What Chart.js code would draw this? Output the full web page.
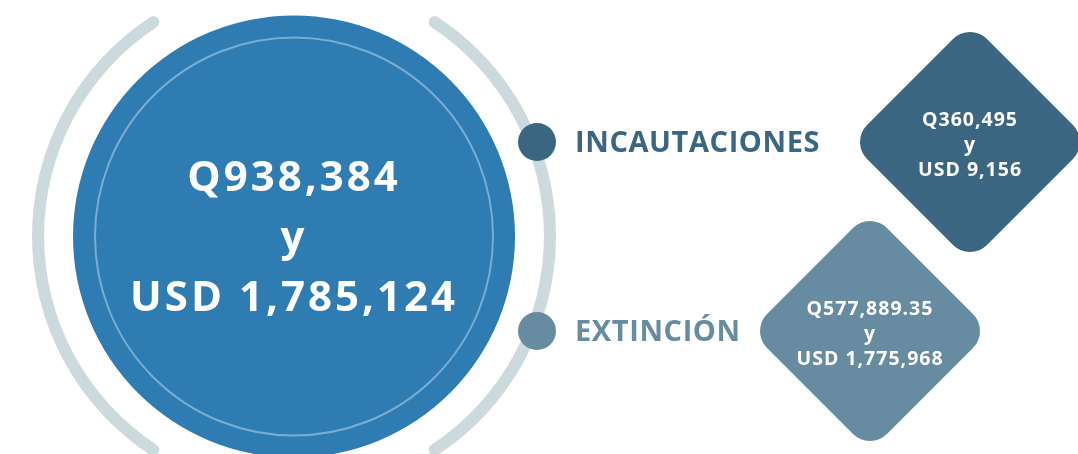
<!DOCTYPE html>
<html lang="es">
<head>
<meta charset="utf-8">
<title>Incautaciones y extinción</title>
<script src="https://cdn.jsdelivr.net/npm/chart.js@4.4.1/dist/chart.umd.min.js"></script>
<style>
  html, body { margin: 0; padding: 0; background: #fff; overflow: hidden; }
  #wrap { position: relative; width: 1078px; height: 454px; overflow: hidden; }
  #ring { position: absolute; left: 32px; top: -26px; }
  #chart { position: absolute; left: 0; top: 0; }
</style>
</head>
<body>
<div id="wrap">
  <canvas id="ring" width="524" height="524"></canvas>
  <canvas id="chart" width="1078" height="454"></canvas>
</div>
<script>
// datos
const categories = ['INCAUTACIONES', 'EXTINCIÓN'];
const quetzales = [360495, 577889.35];
const dolares = [9156, 1775968];
const totalQuetzales = 938384;
const totalDolares = 1785124;

const catColors = ['#3b6681', '#678ba0'];
const mainBlue = '#2e7cb1';
const arcGray = '#ccd9dd';

// columnas del infográfico (x en px, y en índice de categoría)
const circleX = 294;
const markerX = 537;
const diamondX = [970, 870];

function fmt(v) {
  return v.toLocaleString('en-US', { maximumFractionDigits: 2 });
}

// arcos grises alrededor del círculo principal
new Chart(document.getElementById('ring'), {
  type: 'doughnut',
  data: {
    datasets: [{
      data: [116, 64, 116, 64],
      backgroundColor: [arcGray, 'rgba(0,0,0,0)', arcGray, 'rgba(0,0,0,0)'],
      borderWidth: 0,
      borderRadius: 6
    }]
  },
  options: {
    responsive: false,
    animation: false,
    events: [],
    rotation: 32,
    cutout: '95.4%',
    plugins: { legend: { display: false }, tooltip: { enabled: false } }
  }
});

// esquinas redondeadas para los rombos
const roundJoin = {
  id: 'roundJoin',
  beforeDatasetDraw(chart, args) {
    if (args.index === 3) chart.ctx.lineJoin = 'round';
  },
  afterDatasetDraw(chart, args) {
    if (args.index === 3) chart.ctx.lineJoin = 'miter';
  }
};

// textos sobre las figuras
const infoText = {
  id: 'infoText',
  afterDatasetsDraw(chart) {
    const ctx = chart.ctx;
    ctx.save();
    ctx.textAlign = 'center';
    ctx.textBaseline = 'alphabetic';
    ctx.fillStyle = '#ffffff';

    const big = chart.getDatasetMeta(0).data[0];
    ctx.font = 'bold 42px "Open Sans", sans-serif';
    ctx.letterSpacing = '3px';
    ctx.fillText('Q' + fmt(totalQuetzales), big.x, big.y - 46);
    ctx.fillText('y', big.x, big.y + 14);
    ctx.fillText('USD ' + fmt(totalDolares), big.x, big.y + 74);

    const markers = chart.getDatasetMeta(2).data;
    ctx.textAlign = 'left';
    ctx.font = 'bold 29px "Open Sans", sans-serif';
    ctx.letterSpacing = '0.6px';
    markers.forEach((m, i) => {
      ctx.fillStyle = catColors[i];
      ctx.fillText(categories[i], m.x + 38, m.y + 10);
    });

    const diamonds = chart.getDatasetMeta(3).data;
    ctx.textAlign = 'center';
    ctx.fillStyle = '#ffffff';
    ctx.font = 'bold 19.5px "Open Sans", sans-serif';
    ctx.letterSpacing = '1px';
    diamonds.forEach((d, i) => {
      ctx.fillText('Q' + fmt(quetzales[i]), d.x, d.y - 16);
      ctx.fillText('y', d.x, d.y + 9);
      ctx.fillText('USD ' + fmt(dolares[i]), d.x, d.y + 34);
    });
    ctx.restore();
  }
};

new Chart(document.getElementById('chart'), {
  type: 'scatter',
  data: {
    datasets: [
      { // círculo principal
        data: [{ x: circleX, y: 0.5 }],
        pointRadius: 221,
        backgroundColor: mainBlue,
        borderWidth: 0,
        order: 4,
        clip: false
      },
      { // anillo interior
        data: [{ x: circleX, y: 0.5 }],
        pointRadius: 199,
        backgroundColor: 'rgba(0,0,0,0)',
        borderColor: '#79aed3',
        borderWidth: 2,
        order: 3,
        clip: false
      },
      { // marcadores de categoría
        data: categories.map((c, i) => ({ x: markerX, y: i })),
        pointRadius: 19,
        backgroundColor: catColors,
        borderWidth: 0,
        order: 2,
        clip: false
      },
      { // rombos con los montos
        data: categories.map((c, i) => ({ x: diamondX[i], y: i })),
        pointStyle: 'rectRot',
        pointRadius: 86,
        backgroundColor: catColors,
        borderColor: catColors,
        borderWidth: 48,
        order: 1,
        clip: false
      }
    ]
  },
  options: {
    responsive: false,
    animation: false,
    events: [],
    layout: { padding: 0, autoPadding: false },
    plugins: { legend: { display: false }, tooltip: { enabled: false } },
    scales: {
      x: { type: 'linear', min: 0, max: 1078, display: false },
      y: { type: 'linear', min: -142 / 189, max: 312 / 189, reverse: true, display: false }
    }
  },
  plugins: [roundJoin, infoText]
});
</script>
</body>
</html>
